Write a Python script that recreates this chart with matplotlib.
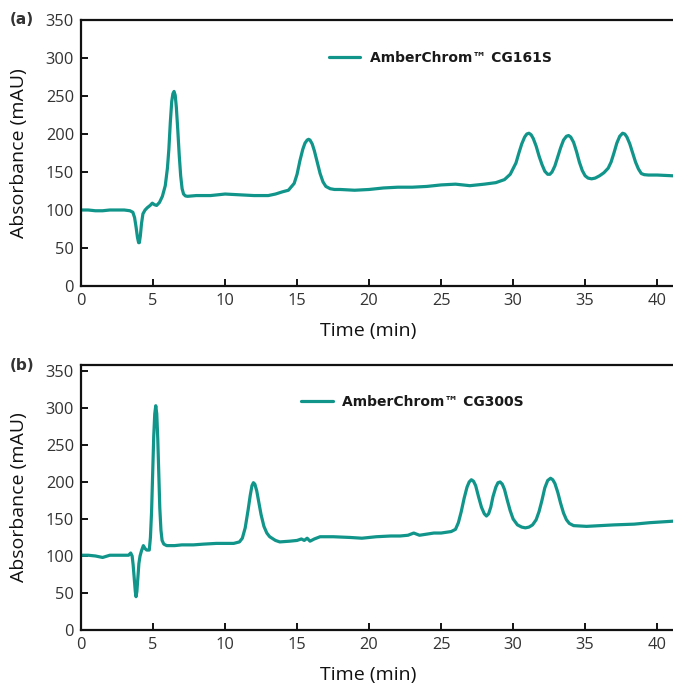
import matplotlib
matplotlib.use("Agg")
import matplotlib.pyplot as plt

plt.rcParams['font.family'] = ['Open Sans', 'DejaVu Sans']

COLOR = "#11958b"

# Panel (a): AmberChrom CG161S
tA = [0, 0.5, 1, 1.5, 2, 2.5, 3, 3.4, 3.6, 3.72, 3.82, 3.92, 4.0, 4.05, 4.12, 4.2, 4.3, 4.45,
      4.6, 4.8, 4.95, 5.1, 5.25, 5.45, 5.65, 5.85, 6.0, 6.1, 6.2, 6.3, 6.38, 6.46, 6.54, 6.62,
      6.72, 6.82, 6.92, 7.02, 7.12, 7.25, 7.4,
      8, 9, 10, 11, 12, 13, 13.5, 14, 14.4, 14.8, 15.0, 15.2, 15.4, 15.55, 15.7, 15.8, 15.9,
      16.05, 16.2, 16.4, 16.6, 16.8, 17.0, 17.3, 17.6,
      18, 19, 20, 21, 22, 23, 24, 25, 26, 27, 28, 28.8, 29.4, 29.8,
      30.2, 30.4, 30.6, 30.8, 30.95, 31.1, 31.25, 31.4, 31.6, 31.8, 32.0, 32.2, 32.4, 32.55,
      32.7, 32.9, 33.1, 33.3, 33.5, 33.7, 33.85, 34.0, 34.2, 34.4, 34.6, 34.8, 35.0, 35.2,
      35.45, 35.7, 36.0, 36.3, 36.6, 36.8, 37.0, 37.2, 37.4, 37.6, 37.75, 37.9, 38.1, 38.3,
      38.5, 38.7, 38.9, 39.1, 39.4, 40, 41.1]
vA = [100, 100, 99, 99, 100, 100, 100, 99, 97, 90, 78, 64, 57, 57, 66, 82, 95, 100,
      103, 106, 109, 107, 106, 110, 118, 132, 155, 180, 215, 243, 253, 256, 251, 235,
      205, 172, 145, 128, 121, 118.5, 118,
      119, 119, 121, 120, 119, 119, 121, 124, 126, 135, 147, 165, 180, 188, 192, 193, 192,
      187, 178, 163, 148, 137, 131, 128, 127,
      127, 126, 127, 129, 130, 130, 131, 133, 134, 132, 134, 136, 140, 147,
      162, 175, 187, 196, 200, 201, 199, 194, 184, 171, 160, 151, 147, 147,
      150, 158, 170, 182, 192, 197, 198, 196, 189, 177, 163, 152, 145, 142,
      141, 142, 145, 149, 155, 163, 175, 188, 197, 201, 200, 196, 187, 175,
      163, 154, 148, 146.5, 146, 146, 145]

# Panel (b): AmberChrom CG300S
tB = [0, 0.5, 1, 1.5, 2, 2.5, 3, 3.3, 3.45, 3.55, 3.62, 3.7, 3.77, 3.82, 3.88, 3.95, 4.02,
      4.1, 4.2, 4.33, 4.45, 4.56, 4.74, 4.82, 4.9, 4.98, 5.05, 5.12, 5.19, 5.26, 5.33, 5.4,
      5.47, 5.55, 5.63, 5.75, 5.95, 6.5, 7, 7.8, 8.5, 9.4, 10, 10.6, 11.0, 11.2, 11.4, 11.6,
      11.75, 11.87, 11.97, 12.07, 12.2, 12.35, 12.5, 12.7, 12.9, 13.1, 13.5, 13.8, 14.5, 15,
      15.3, 15.5, 15.7, 15.9, 16.2, 16.6, 17.5, 18.7, 19.5, 20.5, 21.5, 22.15, 22.7, 23.1,
      23.5, 24.5, 25, 25.7, 26.0, 26.2, 26.4, 26.6, 26.8, 26.95, 27.1, 27.25, 27.4, 27.6,
      27.8, 28.0, 28.15, 28.3, 28.45, 28.6, 28.8, 28.95, 29.1, 29.25, 29.4, 29.6, 29.8, 30.0,
      30.3, 30.6, 30.85, 31.1, 31.35, 31.6, 31.8, 32.0, 32.2, 32.4, 32.6, 32.75, 32.9, 33.1,
      33.3, 33.5, 33.7, 33.9, 34.2, 35.1, 36, 37, 38.4, 39.5, 41.1]
vB = [101, 101, 100, 98, 101, 101, 101, 101, 104, 100, 88, 68, 52, 45, 52, 72, 90,
      100, 107, 114, 110, 108, 108, 125, 160, 215, 262, 292, 303, 292, 258, 210,
      165, 135, 121, 116, 114, 114, 115, 115, 116, 117, 117, 117, 119, 124, 138, 162,
      182, 195, 199, 197, 188, 172, 156, 140, 131, 126, 121, 119, 120, 121,
      123, 121, 124, 120, 123, 126, 126, 125, 124, 126, 127, 127, 128, 131,
      128, 131, 131, 133, 136, 145, 160, 178, 193, 200, 203, 201, 195, 180,
      166, 157, 154, 157, 166, 180, 193, 199, 200, 197, 190, 175, 161, 150,
      142, 139, 138, 139, 142, 149, 160, 175, 192, 202, 205, 203, 198, 186,
      171, 158, 149, 144, 141, 140, 141, 142, 143, 145, 147]

panels = [
    dict(t=tA, v=vA, label="AmberChrom\u2122 CG161S", tag="(a)", ylim=(0, 350),
         rect=[81/673, 1-286/685, 592/673, 266/685], leg=(0.397, 0.857)),
    dict(t=tB, v=vB, label="AmberChrom\u2122 CG300S", tag="(b)", ylim=(0, 358),
         rect=[81/673, 1-630/685, 592/673, 265/685], leg=(0.35, 0.86)),
]

xticks = [0, 5, 10, 15, 20, 25, 30, 35, 40]
yticks = [0, 50, 100, 150, 200, 250, 300, 350]

fig = plt.figure(figsize=(6.73, 6.85), dpi=100)
for p in panels:
    ax = fig.add_axes(p["rect"])
    ax.plot(p["t"], p["v"], color=COLOR, lw=2.3, solid_joinstyle='round',
            solid_capstyle='round', label=p["label"])
    ax.set_xlim(0, 41.1)
    ax.set_ylim(*p["ylim"])
    ax.set_xticks(xticks)
    ax.set_yticks(yticks)
    ax.spines['right'].set_visible(False)
    for s in ['left', 'bottom', 'top']:
        ax.spines[s].set_linewidth(1.6)
        ax.spines[s].set_color('#111111')
    ax.tick_params(direction='in', length=5, width=1.3, labelsize=11.8,
                   labelcolor='#333333', pad=5)
    ax.set_xlabel("Time (min)", fontsize=14, color='#111111')
    ax.xaxis.set_label_coords((368 - 81) / 592, -0.135)
    ax.set_ylabel("Absorbance (mAU)", fontsize=14, color='#111111')
    ax.yaxis.set_label_coords(-0.089, 0.5)
    leg = ax.legend(loc='center left', bbox_to_anchor=p["leg"], frameon=False,
                    handlelength=2.3, handletextpad=0.7,
                    prop={'family': 'DejaVu Sans', 'weight': 'bold', 'size': 10})
    for txt in leg.get_texts():
        txt.set_color('#1a1a1a')
    top_y = p["rect"][1] + p["rect"][3]
    fig.text(10/673, top_y, p["tag"], fontsize=11, fontweight='bold',
             family='DejaVu Sans', color='#333333', ha='left', va='center')

fig.savefig("out.png", dpi=100)
